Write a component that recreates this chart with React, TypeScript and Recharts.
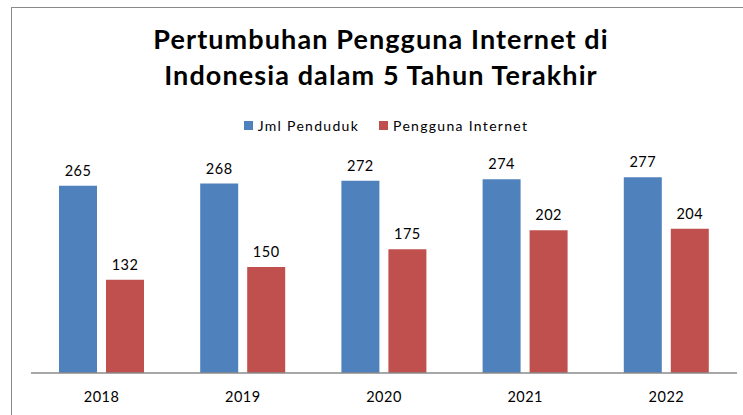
import { BarChart, Bar, XAxis, YAxis, LabelList } from "recharts";

const years = ["2018", "2019", "2020", "2021", "2022"];
const penduduk = [265, 268, 272, 274, 277];
const pengguna = [132, 150, 175, 202, 204];
const seriesNames = ["Jml Penduduk", "Pengguna Internet"];
const seriesColors = ["#4F81BD", "#C0504D"];

const data = years.map((year, i) => ({
  year,
  penduduk: penduduk[i],
  pengguna: pengguna[i],
}));

const font = "Lato, 'Noto Sans', sans-serif";
const labelStyle = { fontSize: 14.5, fill: "#000", fontFamily: font, letterSpacing: 0.5 };

const App = () => {
  return (
    <div style={{ position: "absolute", left: 0, top: 0, width: 743, height: 415, overflow: "hidden", background: "#fff", fontFamily: font }}>
      {/* chart frame: only left and top edges show in the crop */}
      <div style={{ position: "absolute", left: 11, top: 7, width: 800, height: 500, borderLeft: "1px solid #8a8a8a", borderTop: "1px solid #8a8a8a" }} />
      <div style={{ position: "absolute", left: 0, top: 21, width: 762, textAlign: "center", fontWeight: 700, fontSize: 27, letterSpacing: 1.1, lineHeight: "36px", color: "#000" }}>
        Pertumbuhan Pengguna Internet di
        <br />
        Indonesia dalam 5 Tahun Terakhir
      </div>
      <div style={{ position: "absolute", left: 0, top: 117, width: 772, display: "flex", justifyContent: "center", gap: 20, fontSize: 14, letterSpacing: 1.3, color: "#000" }}>
        {seriesNames.map((name, i) => (
          <div key={name} style={{ display: "flex", alignItems: "center", gap: 5 }}>
            <span style={{ width: 9, height: 9, background: seriesColors[i], display: "inline-block" }} />
            <span>{name}</span>
          </div>
        ))}
      </div>
      <BarChart
        width={743}
        height={415}
        data={data}
        margin={{ top: 161, right: 6, left: 31, bottom: 0 }}
        barSize={38}
        barGap={9}
        style={{ position: "absolute", left: 0, top: 0 }}
      >
        <XAxis
          dataKey="year"
          height={42}
          tickLine={false}
          tickSize={0}
          tickMargin={19}
          axisLine={{ stroke: "#8a8a8a", strokeWidth: 1.5 }}
          tick={labelStyle}
        />
        <YAxis hide domain={[0, 300]} />
        <Bar dataKey="penduduk" name={seriesNames[0]} fill={seriesColors[0]} isAnimationActive={false}>
          <LabelList dataKey="penduduk" position="top" offset={10} style={labelStyle} />
        </Bar>
        <Bar dataKey="pengguna" name={seriesNames[1]} fill={seriesColors[1]} isAnimationActive={false}>
          <LabelList dataKey="pengguna" position="top" offset={10} style={labelStyle} />
        </Bar>
      </BarChart>
    </div>
  );
};

export default App;
